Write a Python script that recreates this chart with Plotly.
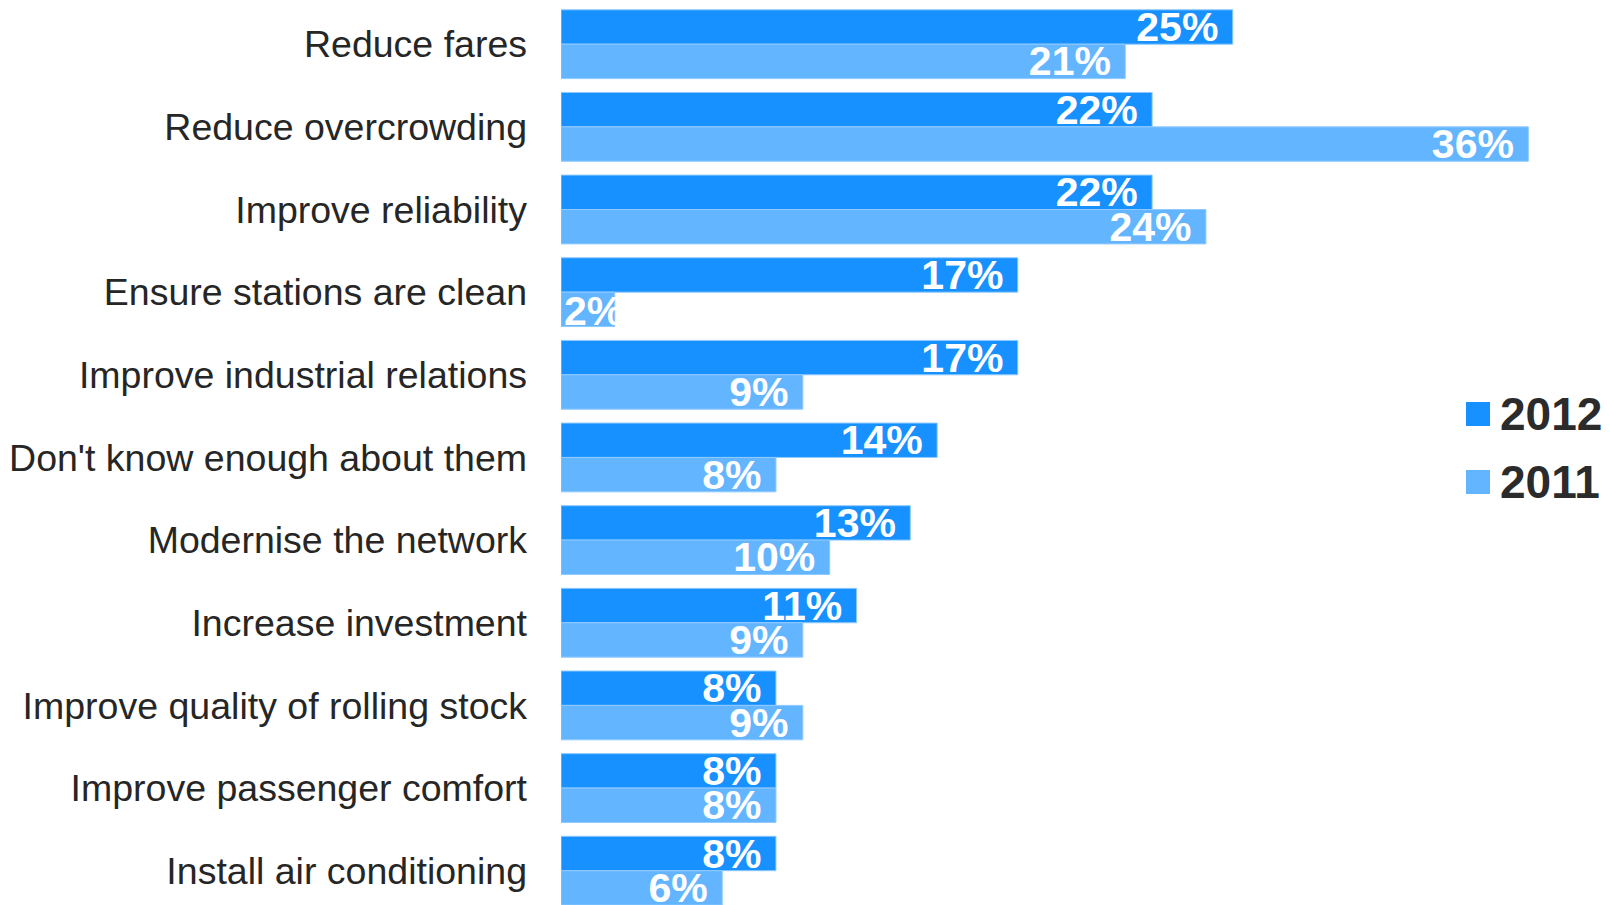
import plotly.graph_objects as go

categories = ["Reduce fares", "Reduce overcrowding", "Improve reliability",
              "Ensure stations are clean", "Improve industrial relations",
              "Don't know enough about them", "Modernise the network",
              "Increase investment", "Improve quality of rolling stock",
              "Improve passenger comfort", "Install air conditioning"]
values_2012 = [25, 22, 22, 17, 17, 14, 13, 11, 8, 8, 8]
values_2011 = [21, 36, 24, 2, 9, 8, 10, 9, 9, 8, 6]
series_names = ["2012", "2011"]
colors = ["#1791ff", "#64b5ff"]

W, H = 1602, 905
OFF = 8  # page body margin
ML, MR, MT, MB = 553, 62, 0, 0
PW, PH = W - ML - MR, H - MT - MB
px_per_pct = 26.87
pitch = 82.65
first_center = 44.2 - OFF  # px from plot top

def paper_x(px):
    return (px - OFF - ML) / PW

def paper_y(py):
    return 1 - (py - OFF - MT) / PH

SMALL = 4  # values below this do not fit their label inside the bar

fig = go.Figure()
for name, vals, col in zip(series_names, [values_2012, values_2011], colors):
    fig.add_trace(go.Bar(
        y=categories, x=vals, name=name, orientation="h",
        marker=dict(color=col, line=dict(color="#8ecaff", width=1)),
        text=[f"{v}%\u00a0" if v >= SMALL else "" for v in vals],
        textposition="inside", insidetextanchor="end",
        constraintext="none", textangle=0,
        textfont=dict(family="Liberation Sans", size=41, color="white", weight="bold"),
        showlegend=False,
    ))

# small-bar labels start at the bar base (overflow is white on white)
for i, (cat, v) in enumerate(zip(categories, values_2011)):
    if v < SMALL:
        fig.add_annotation(x=0, y=cat, xref="x", yref="y", xanchor="left",
                           yanchor="middle", xshift=1, yshift=-19, showarrow=False,
                           text=f"<b>{v}%</b>",
                           font=dict(family="Liberation Sans", size=41, color="white"))

# legend drawn manually (large squares)
leg_y = [414, 482]
for name, col, yc in zip(series_names, colors, leg_y):
    fig.add_shape(type="rect", xref="paper", yref="paper",
                  x0=paper_x(1466), x1=paper_x(1490),
                  y0=paper_y(yc + 12), y1=paper_y(yc - 12),
                  fillcolor=col, line=dict(width=0))
    fig.add_annotation(xref="paper", yref="paper", x=paper_x(1498), y=paper_y(yc),
                       xanchor="left", yanchor="middle", showarrow=False,
                       text=f"<b>{name}</b>",
                       font=dict(family="Liberation Sans", size=46, color="#2b2b2b"))

fig.update_layout(
    width=W, height=H,
    margin=dict(l=ML, r=MR, t=MT, b=MB, pad=0),
    paper_bgcolor="white", plot_bgcolor="white",
    barmode="group", bargap=0.1676, bargroupgap=0,
    showlegend=False,
    xaxis=dict(range=[0, PW / px_per_pct], showgrid=False, zeroline=False,
               showticklabels=False, showline=False, ticks=""),
    yaxis=dict(type="category", categoryorder="array", categoryarray=categories,
               range=[-first_center / pitch + PH / pitch, -first_center / pitch],
               showgrid=False, zeroline=False,
               showline=False, ticks="", ticklabelstandoff=33,
               tickfont=dict(family="Liberation Sans", size=37.5, color="#262626")),
)

fig.write_html("out.html")
